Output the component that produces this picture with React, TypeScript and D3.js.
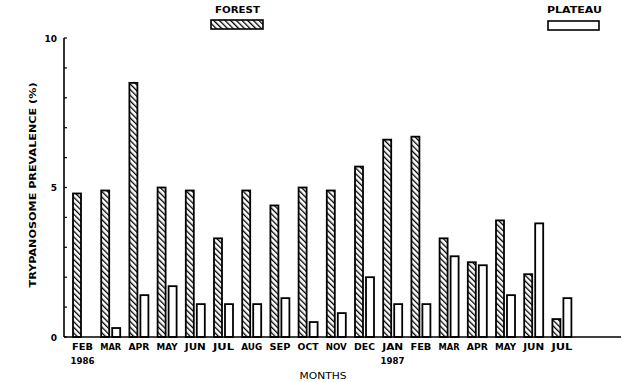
import React from "react";
import * as d3 from "d3";

const months = ["FEB","MAR","APR","MAY","JUN","JUL","AUG","SEP","OCT","NOV","DEC","JAN","FEB","MAR","APR","MAY","JUN","JUL"];
const yearLabels = [{ index: 0, label: "1986" }, { index: 11, label: "1987" }];
const forest = [4.8, 4.9, 8.5, 5.0, 4.9, 3.3, 4.9, 4.4, 5.0, 4.9, 5.7, 6.6, 6.7, 3.3, 2.5, 3.9, 2.1, 0.6];
const plateau = [0, 0.3, 1.4, 1.7, 1.1, 1.1, 1.1, 1.3, 0.5, 0.8, 2.0, 1.1, 1.1, 2.7, 2.4, 1.4, 3.8, 1.3];
const series = ["FOREST", "PLATEAU"];
const yMajorTicks = [0, 5, 10];
const yMinorTicks = d3.range(0, 11);

const W = 623, H = 382;
const font = "'DejaVu Sans', sans-serif";

export default function App() {
  const keys = months.map((_, i) => String(i));
  const x0 = d3.scaleBand<string>().domain(keys).range([68.4, 68.4 + 18 * 28.2]).padding(0);
  const x1 = d3.scaleBand<string>().domain(series).range([4.6, 23.6]).paddingInner(3 / 11).paddingOuter(0);
  const y = d3.scaleLinear().domain([0, 10]).range([337, 38]);
  const axisX = 64;

  const bars: JSX.Element[] = [];
  months.forEach((_, i) => {
    const gx = x0(String(i))!;
    const vals = [forest[i], plateau[i]];
    vals.forEach((v, s) => {
      if (!v) return;
      const bx = gx + x1(series[s])!;
      const top = y(v);
      bars.push(
        <rect key={`${i}-${s}`} x={bx} y={top} width={x1.bandwidth()} height={y(0) - top}
          fill={s === 0 ? "url(#hatch)" : "#fff"} stroke="#000" strokeWidth={1.8} />
      );
    });
  });

  return (
    <svg width={W} height={H} style={{ position: "absolute", left: 0, top: 0 }}>
      <defs>
        <pattern id="hatch" patternUnits="userSpaceOnUse" width={4} height={4} patternTransform="rotate(-45)">
          <rect width={4} height={4} fill="#fff" />
          <line x1={0} y1={0} x2={0} y2={4} stroke="#000" strokeWidth={2.6} />
        </pattern>
      </defs>
      <rect width={W} height={H} fill="#fff" />
      {bars}
      {/* y axis */}
      <line x1={axisX} x2={axisX} y1={y(10)} y2={y(0)} stroke="#000" strokeWidth={1.6} />
      {yMinorTicks.map(t => (
        <line key={t} x1={axisX} x2={axisX + 3} y1={y(t)} y2={y(t)} stroke="#000" strokeWidth={1.2} />
      ))}
      {yMajorTicks.map(t => (
        <text key={t} x={57} y={y(t) + 3.5} textAnchor="end" fontFamily={font} fontWeight="bold" fontSize={9}>{t}</text>
      ))}
      {/* x axis */}
      <line x1={axisX} x2={621} y1={y(0)} y2={y(0)} stroke="#000" strokeWidth={1.6} />
      {months.map((m, i) => (
        <text key={i} x={x0(String(i))! + x0.bandwidth() / 2} y={350} textAnchor="middle"
          fontFamily={font} fontWeight="bold" fontSize={9.5} textLength={21} lengthAdjust="spacingAndGlyphs">{m}</text>
      ))}
      {yearLabels.map(yl => (
        <text key={yl.label} x={x0(String(yl.index))! + 2} y={363.5} fontFamily={font} fontWeight="bold"
          fontSize={9.5} textLength={24} lengthAdjust="spacingAndGlyphs">{yl.label}</text>
      ))}
      <text x={323} y={378.5} textAnchor="middle" fontFamily={font} fontSize={8.5}
        textLength={47} lengthAdjust="spacingAndGlyphs">MONTHS</text>
      <text transform={`translate(36,${185}) rotate(-90)`} textAnchor="middle" fontFamily={font}
        fontWeight="bold" fontSize={9.5} textLength={205} lengthAdjust="spacingAndGlyphs">TRYPANOSOME PREVALENCE (%)</text>
      {/* legend */}
      <text x={215} y={13} fontFamily={font} fontWeight="bold" fontSize={9.5} textLength={45} lengthAdjust="spacingAndGlyphs">FOREST</text>
      <rect x={211} y={20} width={52} height={9} fill="url(#hatch)" stroke="#000" strokeWidth={1.6} />
      <text x={547} y={13} fontFamily={font} fontWeight="bold" fontSize={9.5} textLength={55} lengthAdjust="spacingAndGlyphs">PLATEAU</text>
      <rect x={548} y={21} width={51} height={9} fill="#fff" stroke="#000" strokeWidth={1.6} />
    </svg>
  );
}
